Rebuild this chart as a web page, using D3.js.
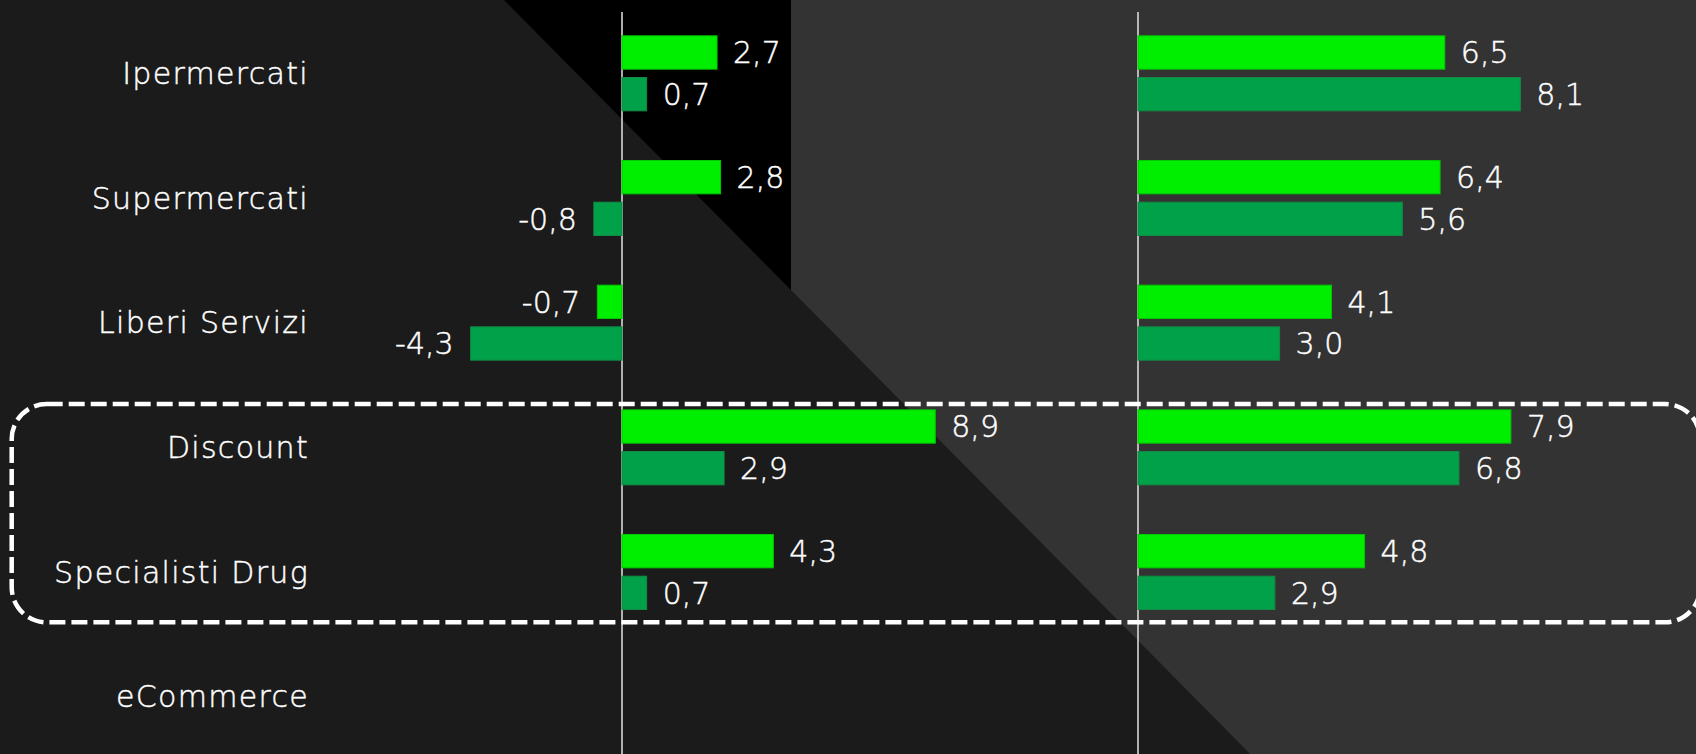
<!DOCTYPE html>
<html>
<head>
<meta charset="utf-8">
<script src="https://cdn.jsdelivr.net/npm/d3@7"></script>
<style>
  html, body { margin: 0; padding: 0; background: #1b1b1b; overflow: hidden; }
  svg { display: block; }
  text { font-family: "DejaVu Sans", "Open Sans", sans-serif; font-weight: 200; fill: #ffffff; stroke: #ffffff; stroke-width: 0.45px; }
</style>
</head>
<body>
<svg id="chart" width="1696" height="754"></svg>
<script>
// Channels
const categories = ["Ipermercati", "Supermercati", "Liberi Servizi", "Discount", "Specialisti Drug", "eCommerce"];
const seriesKeys = ["chiaro", "scuro"];

// Left panel: % change
const leftChiaro = [2.7, 2.8, -0.7, 8.9, 4.3, null];
const leftScuro  = [0.7, -0.8, -4.3, 2.9, 0.7, null];

// Right panel: % change
const rightChiaro = [6.5, 6.4, 4.1, 7.9, 4.8, null];
const rightScuro  = [8.1, 5.6, 3.0, 6.8, 2.9, null];

// Channels inside the dashed frame
const highlighted = ["Discount", "Specialisti Drug"];

const W = 1696, H = 754;
const colors = { chiaro: "#00ee00", scuro: "#00a149" };
const strokes = { chiaro: "#00c800", scuro: "#138a45" };

const it = d3.formatLocale({ decimal: ",", thousands: ".", grouping: [3], currency: ["€", ""], minus: "-" });
const fmt = it.format(".1f");

const svg = d3.select("#chart");

// Background panels
const diagTop = 504, diagKnee = 791, kneeY = 290;
const slope = kneeY / (diagKnee - diagTop);
const diagBottomX = diagTop + H / slope;
svg.append("rect").attr("width", W).attr("height", H).attr("fill", "#1b1b1b");
svg.append("polygon")
  .attr("points", [[diagTop, 0], [diagKnee, 0], [diagKnee, kneeY]].join(" "))
  .attr("fill", "#000000");
svg.append("polygon")
  .attr("points", [[diagKnee, 0], [W, 0], [W, H], [diagBottomX, H], [diagKnee, kneeY]].join(" "))
  .attr("fill", "#333333");

// Scales
const y = d3.scaleBand().domain(categories).range([11, 759]);
const ySub = d3.scaleBand().domain(seriesKeys).range([-37.5, 37.5]).paddingInner(0.2);
const xLeft = d3.scaleLinear().domain([-5, 10]).range([446, 974]);
const xRight = d3.scaleLinear().domain([0, 10]).range([1138, 1610]);

const rows = categories.map((c, i) => ({
  category: c,
  left: { chiaro: leftChiaro[i], scuro: leftScuro[i] },
  right: { chiaro: rightChiaro[i], scuro: rightScuro[i] }
}));

// Category labels
svg.append("g").selectAll("text")
  .data(categories)
  .join("text")
  .attr("x", 309)
  .attr("y", d => y(d) + y.bandwidth() / 2)
  .attr("dy", "0.36em")
  .attr("text-anchor", "end")
  .attr("font-size", 30)
  .attr("letter-spacing", 1.3)
  .text(d => d);

function drawPanel(x, side) {
  const g = svg.append("g");
  // zero line
  g.append("line")
    .attr("x1", x(0)).attr("x2", x(0))
    .attr("y1", 12).attr("y2", H)
    .attr("stroke", "#d8d8d8").attr("stroke-width", 1.6);

  const items = [];
  rows.forEach(r => seriesKeys.forEach(k => {
    if (r[side][k] != null) items.push({ category: r.category, key: k, value: r[side][k] });
  }));

  const cy = d => y(d.category) + y.bandwidth() / 2 + ySub(d.key);

  g.selectAll("rect.bar")
    .data(items)
    .join("rect")
    .attr("class", "bar")
    .attr("x", d => Math.min(x(0), x(d.value)))
    .attr("width", d => Math.abs(x(d.value) - x(0)))
    .attr("y", cy)
    .attr("height", ySub.bandwidth())
    .attr("fill", d => colors[d.key])
    .attr("stroke", d => strokes[d.key])
    .attr("stroke-width", 1);

  g.selectAll("text.val")
    .data(items)
    .join("text")
    .attr("class", "val")
    .attr("x", d => d.value >= 0 ? x(d.value) + 16 : x(d.value) - 17)
    .attr("y", d => cy(d) + ySub.bandwidth() / 2)
    .attr("dy", "0.36em")
    .attr("text-anchor", d => d.value >= 0 ? "start" : "end")
    .attr("font-size", 30)
    .text(d => fmt(d.value));
}

drawPanel(xLeft, "left");
drawPanel(xRight, "right");

// Dashed frame around highlighted channels
const frameTop = y(highlighted[0]) + 19;
const frameBottom = y(highlighted[highlighted.length - 1]) + y.bandwidth() - 12;
svg.append("rect")
  .attr("x", 11.7)
  .attr("y", frameTop)
  .attr("width", 1700 - 11.7)
  .attr("height", frameBottom - frameTop)
  .attr("rx", 35).attr("ry", 35)
  .attr("fill", "none")
  .attr("stroke", "#ffffff")
  .attr("stroke-width", 4.5)
  .attr("stroke-dasharray", "16 6");
</script>
</body>
</html>
